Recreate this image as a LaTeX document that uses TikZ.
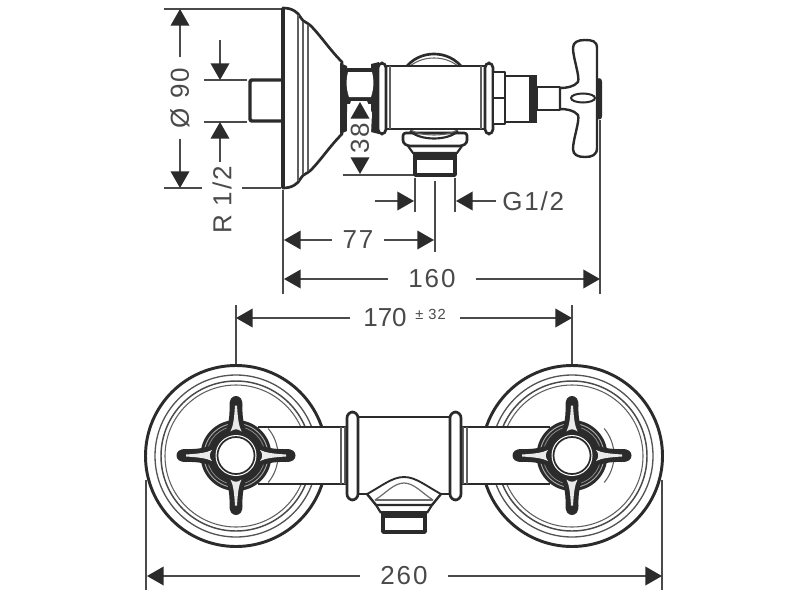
\documentclass[tikz,border=0pt]{standalone}
\usepackage{fontspec}
\setmainfont{Liberation Sans}
\newfontfamily\dimfont[LetterSpace=7]{Liberation Sans}
\usetikzlibrary{arrows.meta}
\definecolor{ink}{HTML}{2B2B2B}
\definecolor{dimc}{HTML}{4A4A4A}
\tikzset{
  part/.style={draw=ink,line width=2pt,line join=round,fill=white},
  thick part/.style={draw=ink,line width=2.6pt,line join=round,line cap=round},
  fine/.style={draw=ink!75,line width=.8pt},
  ext/.style={draw=dimc,line width=1pt},
  dim/.style={draw=dimc,line width=1.1pt,-{Triangle[length=12.5pt,width=14pt,color=ink]},shorten >=0pt},
  lab/.style={font=\dimfont\fontsize{19.5}{20}\selectfont,text=dimc,inner sep=1pt,outer sep=0pt},
  gap/.style={inner xsep=8pt},
}
\newcommand{\crosshub}[2]{%
  \begin{scope}[shift={(#1,455.5)}]
    \draw[fine] (#2*40:42) arc[start angle=#2*40,end angle=#2*-40,radius=42];
    \fill[ink] (0,0) circle[radius=35.5];
    \draw[white!60!ink,line width=.7pt] (0,0) circle[radius=32];
    \draw[white!45!ink,line width=.6pt] (0,0) circle[radius=29];
    \foreach \a in {0,90,180,270}{
      \begin{scope}[rotate=\a]
        \fill[ink] (22,-11) .. controls (30,-8) and (38,-6) .. (50,-6.5)
          .. controls (56,-6.8) and (59.5,-4) .. (59.5,0)
          .. controls (59.5,4) and (56,6.8) .. (50,6.5)
          .. controls (38,6) and (30,8) .. (22,11) -- cycle;
        \fill[white!90!ink] (24,-5.5) .. controls (30,-2.5) and (38,-1.8) .. (50,-1)
          -- (50,1) .. controls (38,1.8) and (30,2.5) .. (24,5.5)
          .. controls (27,2) and (27,-2) .. (24,-5.5) -- cycle;
      \end{scope}
    }
    \fill[white] (0,0) circle[radius=20.5];
    \draw[ink,line width=1.3pt] (0,0) circle[radius=18.5];
  \end{scope}}
\begin{document}
\begin{tikzpicture}[x=.75pt,y=-.75pt]
\useasboundingbox[fill=white] (0,0) rectangle (800,600);

% ---------- side view: extension lines
\draw[ext] (164,9) -- (281,9);
\draw[ext] (204,80) -- (247,80);
\draw[ext] (204,122) -- (247,122);
\draw[ext] (283,190) -- (283,294);
\draw[ext] (343,175) -- (415,175);
\draw[ext] (415,178) -- (415,212);
\draw[ext] (455,178) -- (455,212);
\draw[ext] (435,181) -- (435,252);
\draw[ext] (600,120) -- (600,294);
\draw[ext] (164,188) -- (202,188);
\draw[ext] (242,188) -- (281,188);

% wall stub
\draw[thick part,fill=white,rounded corners=1.5pt] (283,80) -- (250,80) -- (250,121) -- (283,121);

% escutcheon
\draw[part] (283,8) .. controls (292,8) and (298,12) .. (301,18)
  .. controls (303,22) and (307,22) .. (311,26)
  .. controls (320,35) and (330,50) .. (342,62)
  -- (342,134)
  .. controls (330,146) and (320,161) .. (311,170)
  .. controls (307,174) and (303,174) .. (301,178)
  .. controls (298,184) and (292,188) .. (283,188) -- cycle;
\draw[ink,line width=2.8pt] (283,8) -- (283,188);
\draw[fine] (298,15) -- (298,181);
\draw[fine] (303,22) -- (303,174);
\draw[fine] (308,25) -- (308,171);

% hex nut
\fill[ink] (340,63) -- (347,66) -- (347,131) -- (340,134) -- cycle;
\fill[ink] (371,64) -- (379,62) -- (379,134) -- (371,132) -- cycle;
\fill[ink] (345,68) rectangle (375,104);
\fill[white] (348,72) .. controls (346,80) and (346,88) .. (349,97) -- (371,97) .. controls (374,88) and (374,80) .. (372,72) -- cycle;
\fill[white] (351,101) -- (367,101) -- (372,113) -- (371,134) -- (347,134) -- (347,113) -- cycle;

% domes behind the body
\draw[part] (404,70) .. controls (412,58) and (424,54) .. (434,54) .. controls (444,54) and (456,58) .. (464,70);
\draw[fine] (410,66) .. controls (418,60) and (426,58) .. (434,58) .. controls (442,58) and (450,60) .. (458,66);

% outlet under body
\draw[part,rounded corners=2pt] (403,133) -- (403,143) -- (408,146) -- (462,146) -- (467,143) -- (467,133) -- cycle;
\draw[fine] (410,129) .. controls (418,137) and (450,137) .. (458,129);
\draw[ink,line width=1.6pt] (410,131) .. controls (420,141) and (448,141) .. (458,131);
\draw[ink,line width=1.6pt] (408,146) -- (413,153) -- (457,153) -- (462,146);
\fill[ink] (413,153) rectangle (457,160);
\draw[thick part,fill=white] (415,160) -- (415,175) -- (455,175) -- (455,160);

% body
\draw[part] (385,66) -- (485,66) -- (485,129) -- (385,129) -- cycle;
\draw[fine] (390,66) -- (390,129);
\draw[fine] (481,66) -- (481,129);
\draw[part,rounded corners=3.5pt] (378,63) rectangle (386,134);
\draw[part,rounded corners=3.5pt] (485,63) rectangle (493,134);

% valve side
\draw[part] (493,72) rectangle (505,124);
\draw[ink,line width=1.6pt] (493,98) -- (505,98);
\draw[part] (505,76) rectangle (535,122);
\draw[ink,line width=2.6pt] (531,76) -- (531,122);
\fill[ink] (533,75) rectangle (537,123);
\draw[part] (537,87) rectangle (560,110);

% handle
\draw[part,line width=1.8pt] (560,88) .. controls (566,88) and (574,87) .. (578,82)
  .. controls (580,76) and (573,58) .. (573,48)
  .. controls (573,42) and (578,40) .. (585,40)
  .. controls (592,40) and (597,41) .. (597,48)
  -- (597,148)
  .. controls (597,155) and (592,157) .. (585,157)
  .. controls (578,157) and (573,155) .. (573,149)
  .. controls (573,139) and (580,121) .. (578,115)
  .. controls (574,110) and (566,109) .. (560,109) -- cycle;
\draw[ink,line width=1.5pt] (583,98) ellipse[x radius=12,y radius=4.5];
\fill[ink] (597,79) .. controls (600,77) and (602,79) .. (602,82) -- (602,116) .. controls (602,119) and (600,120) .. (597,119) -- cycle;

% ---------- side view: dimensions
\node[lab,rotate=90,gap] (d90) at (180,98) {Ø 90};
\draw[dim] (d90) -- (180,9);
\draw[dim] (d90) -- (180,188);
\node[lab,rotate=90] (dr) at (222,200) {R 1/2};
\coordinate (ra) at (220,40);
\coordinate (rb) at (220,162);
\draw[dim] (ra) -- (220,80);
\draw[dim] (rb) -- (220,122);
\node[lab,rotate=90] (d38) at (360,138) {38};
\draw[dim] (360,116) -- (360,102);
\draw[dim] (360,158) -- (360,174);
\node[lab,anchor=west] (dg) at (501,201) {G1/2};
\coordinate (ga) at (375,201);
\draw[dim] (ga) -- (414,201);
\draw[dim] (dg.west) ++(-5,0) -- (456,201);
\node[lab,gap] (d77) at (358,240) {77};
\draw[dim] (d77) -- (284,240);
\draw[dim] (d77) -- (434,240);
\node[lab,inner xsep=15pt] (d160) at (432,279) {160};
\draw[dim] (d160) -- (284,279);
\draw[dim] (d160) -- (600,279);

% ---------- front view: extension lines
\draw[ext] (236,305) -- (236,365);
\draw[ext] (572,305) -- (572,365);
\draw[ext] (146,480) -- (146,590);
\draw[ext] (662,480) -- (662,590);

% wall plates
\foreach \c in {236,572}{
  \draw[ink,line width=2.2pt,fill=white] (\c,456) circle[radius=90.5];
  \draw[ink!80,line width=1pt] (\c,456) circle[radius=81];
  \draw[ink!85,line width=1.1pt] (\c,456) circle[radius=75];
  \draw[ink!75,line width=.8pt] (\c,456) circle[radius=71];
}

% arms
\draw[part,fill=white,draw=none] (258,427) rectangle (550,484);
\draw[ink,line width=2pt] (258,427) -- (347,427);
\draw[ink,line width=2pt] (258,484) -- (347,484);
\draw[ink,line width=2pt] (462,427) -- (550,427);
\draw[ink,line width=2pt] (462,484) -- (550,484);
\draw[fine] (341,427) -- (341,484);
\draw[fine] (345,427) -- (345,484);
\draw[fine] (463,427) -- (463,484);
\draw[fine] (467,427) -- (467,484);

% body, front
\draw[ink,line width=2pt] (358,417) -- (450,417);
\draw[ink,line width=2pt] (358,494) -- (367,494);
\draw[ink,line width=2pt] (441,494) -- (450,494);

% outlet, front
\draw[ink,line width=1.4pt] (367,494) .. controls (382,486) and (392,477) .. (404,477) .. controls (416,477) and (426,486) .. (441,494);
\draw[ink!70,line width=.9pt] (375,500) .. controls (386,493) and (394,483) .. (404,483) .. controls (414,483) and (422,493) .. (433,500);
\draw[ink,line width=1.8pt] (367,494) -- (376,505) -- (432,505) -- (441,494);
\draw[ink!70,line width=.9pt] (375,500) -- (433,500);
\draw[ink,line width=1.6pt] (376,505) -- (381,513);
\draw[ink,line width=1.6pt] (432,505) -- (427,513);
\fill[ink] (381,511) rectangle (427,518);
\draw[thick part,fill=white] (383,518) -- (383,532) -- (425,532) -- (425,518);

% collars
\draw[part,rounded corners=4.5pt] (347,412) rectangle (358,500);
\draw[part,rounded corners=4.5pt] (450,412) rectangle (461,500);

% handles
\crosshub{236}{1}
\crosshub{572}{-1}

% ---------- front view: dimensions
\node[lab,anchor=west,font=\normalfont\fontsize{19.5}{20}\selectfont] (d170) at (362,318) {170};
\node[lab,anchor=west,font=\dimfont\fontsize{11}{11}\selectfont] (d32) at (414,314) {± 32};
\coordinate (la) at (350,318);
\coordinate (lb) at (460,318);
\draw[dim] (la) -- (236,318);
\draw[dim] (lb) -- (572,318);
\node[lab,inner xsep=15pt] (d260) at (404,576) {260};
\draw[dim] (d260) -- (147,576);
\draw[dim] (d260) -- (662,576);
\end{tikzpicture}
\end{document}
